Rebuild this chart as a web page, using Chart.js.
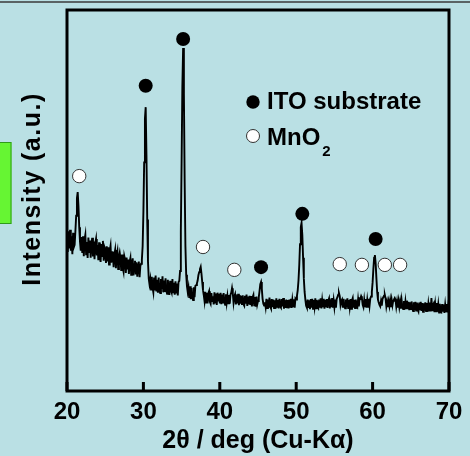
<!DOCTYPE html>
<html>
<head>
<meta charset="utf-8">
<script src="https://cdn.jsdelivr.net/npm/chart.js@4.4.0/dist/chart.umd.min.js"></script>
<style>
  html, body { margin: 0; padding: 0; background: #bae0e4; }
  #wrap { width: 470px; height: 456px; }
</style>
</head>
<body>
<div id="wrap"><canvas id="xrd"></canvas></div>
<script>
// 2theta scan, 20.0 .. 70.0 deg, 0.1 deg per point
const thetaStart = 20;
const thetaStep = 0.1;
const intensity = [
  40.8, 36.5, 41.9, 37.4, 42.3, 36.8, 40.6, 35.9, 41.5, 37.8, // 20
  38.4, 42.0, 46.0, 50.6, 52.2, 48.6, 43.0, 39.2, 36.8, 40.4, // 21
  36.2, 40.6, 35.4, 39.8, 41.0, 35.9, 39.1, 34.9, 40.3, 36.5, // 22
  39.5, 35.0, 38.7, 40.2, 35.3, 39.2, 34.6, 38.8, 39.9, 35.6, // 23
  38.3, 34.3, 39.0, 35.2, 33.9, 38.6, 35.4, 39.4, 34.2, 37.8, // 24
  37.2, 33.6, 38.0, 34.0, 37.7, 33.2, 36.9, 38.1, 33.7, 36.4, // 25
  36.6, 32.5, 35.8, 37.0, 32.2, 35.6, 36.7, 32.0, 35.2, 36.3, // 26
  34.9, 31.5, 35.8, 32.3, 31.3, 35.4, 34.5, 31.0, 35.0, 31.9, // 27
  34.5, 30.7, 33.9, 34.9, 30.5, 33.5, 34.8, 30.3, 33.3, 34.2, // 28
  30.6, 33.8, 30.0, 33.2, 34.0, 29.9, 32.8, 33.4, 34.5, 38.0, // 29
  47.0, 60.0, 71.5, 74.5, 62.0, 45.0, 34.0, 29.5, 28.0, 29.3, // 30
  26.6, 30.0, 27.1, 25.9, 29.8, 26.4, 30.3, 26.1, 29.2, 25.8, // 31
  29.8, 26.3, 25.7, 29.4, 26.8, 30.1, 25.9, 29.0, 26.0, 29.6, // 32
  26.2, 25.5, 29.2, 26.6, 25.2, 28.9, 26.4, 25.8, 29.4, 25.9, // 33
  28.4, 25.3, 28.8, 25.6, 28.2, 25.1, 28.6, 28.9, 31.5, 42.0, // 34
  60.0, 80.0, 90.0, 78.0, 55.0, 38.0, 30.5, 27.5, 26.0, 27.2, // 35
  24.4, 27.5, 24.1, 27.0, 24.8, 23.9, 27.2, 24.6, 27.6, 27.8, // 36
  28.2, 29.0, 30.4, 31.2, 32.0, 32.6, 30.8, 28.6, 26.5, 25.2, // 37
  23.6, 26.0, 23.2, 25.8, 23.0, 25.6, 26.2, 23.4, 22.9, 25.7, // 38
  23.6, 24.9, 22.7, 25.9, 23.2, 25.6, 22.6, 25.8, 23.5, 25.5, // 39
  23.0, 25.8, 22.8, 25.3, 23.0, 25.7, 23.4, 22.6, 25.4, 23.2, // 40
  24.9, 23.0, 25.2, 22.9, 25.3, 25.8, 27.0, 25.6, 23.2, 24.8, // 41
  25.4, 22.7, 25.1, 23.0, 25.5, 22.5, 25.2, 22.9, 25.0, 22.6, // 42
  25.1, 22.8, 22.4, 25.0, 22.9, 25.3, 22.3, 24.8, 22.7, 25.0, // 43
  22.6, 24.9, 22.2, 24.6, 25.2, 22.5, 24.7, 22.1, 24.8, 22.7, // 44
  23.6, 24.6, 26.2, 28.0, 28.6, 26.8, 24.2, 22.9, 22.4, 23.3, // 45
  22.0, 24.2, 21.8, 24.0, 21.9, 24.5, 22.2, 21.7, 24.1, 22.0, // 46
  24.0, 21.8, 23.8, 21.6, 24.3, 22.1, 23.9, 21.7, 24.2, 22.2, // 47
  21.9, 24.1, 22.2, 24.4, 21.6, 23.8, 21.8, 24.0, 22.0, 23.9, // 48
  21.7, 24.0, 22.1, 24.2, 21.8, 23.9, 22.2, 24.1, 21.9, 24.3, // 49
  24.0, 25.0, 26.5, 29.0, 33.0, 38.5, 43.0, 44.1, 41.0, 35.0, // 50
  29.5, 26.0, 24.0, 22.4, 21.9, 24.0, 21.8, 23.8, 21.5, 24.1, // 51
  21.9, 24.2, 21.6, 23.9, 22.1, 24.3, 21.7, 23.9, 22.2, 21.8, // 52
  24.0, 21.9, 24.3, 21.7, 23.8, 22.0, 24.2, 21.6, 23.9, 22.0, // 53
  24.1, 21.8, 23.7, 24.3, 21.7, 23.9, 22.0, 24.4, 21.9, 23.8, // 54
  22.0, 24.0, 21.9, 24.2, 24.6, 25.3, 25.7, 24.9, 22.6, 23.6, // 55
  24.0, 21.9, 24.2, 22.1, 21.7, 24.0, 22.0, 24.3, 21.8, 23.9, // 56
  22.0, 24.1, 21.6, 23.8, 24.4, 21.9, 23.9, 21.8, 24.0, 22.1, // 57
  21.9, 24.0, 22.2, 24.3, 24.2, 24.9, 24.4, 22.6, 22.0, 23.9, // 58
  22.0, 24.1, 21.9, 23.9, 22.1, 24.2, 22.4, 24.3, 24.8, 26.0, // 59
  28.5, 32.0, 35.0, 35.7, 33.5, 29.5, 26.0, 24.0, 23.2, 22.6, // 60
  22.2, 23.6, 22.4, 24.2, 24.6, 25.0, 25.2, 24.3, 22.2, 23.4, // 61
  22.0, 23.5, 22.3, 23.8, 22.0, 23.9, 22.5, 23.7, 24.0, 24.4, // 62
  23.9, 22.1, 23.5, 21.9, 23.6, 22.0, 23.4, 21.6, 23.8, 22.0, // 63
  21.5, 23.6, 21.4, 23.5, 21.7, 23.7, 21.5, 23.4, 21.2, 23.3, // 64
  21.3, 23.5, 21.6, 21.0, 23.3, 21.2, 23.4, 21.1, 23.2, 21.4, // 65
  20.9, 23.2, 21.2, 23.4, 21.0, 23.1, 20.8, 23.0, 21.1, 23.3, // 66
  21.0, 23.1, 20.8, 22.9, 21.1, 23.2, 20.9, 24.4, 21.2, 22.6, // 67
  23.0, 20.7, 22.8, 20.9, 23.1, 20.8, 22.7, 20.6, 22.9, 20.9, // 68
  20.7, 22.8, 20.8, 22.7, 20.5, 22.6, 20.7, 22.8, 20.6, 22.5, // 69
  21.6
];

// peak markers
const itoTheta = [30.3, 35.2, 45.4, 50.8, 60.4];
const itoMark = [80.1, 92.4, 32.5, 46.5, 39.9];
const mnoTheta = [21.6, 37.8, 41.9, 55.7, 58.6, 61.6, 63.6];
const mnoMark = [56.4, 37.8, 31.8, 33.3, 33.1, 33.1, 33.1];

const xTicks = [20, 30, 40, 50, 60, 70];
const yTitle = 'Intensity (a.u.)';
const legendLabels = ['ITO substrate', 'MnO'];
const legendSub = '2';

const FONT = '"Liberation Sans", Arial, sans-serif';
const BG = '#bae0e4';

const scan = intensity.map( ( v, i ) => ( { x: thetaStart + i * thetaStep, y: v } ) );
const ito = itoTheta.map( ( t, i ) => ( { x: t, y: itoMark[ i ] } ) );
const mno = mnoTheta.map( ( t, i ) => ( { x: t, y: mnoMark[ i ] } ) );

const decor = {
	id: 'decor',
	beforeDraw( chart ) {
		const { ctx, width } = chart;
		ctx.save();
		ctx.fillStyle = BG;
		ctx.fillRect( 0, 0, width, chart.height );
		// cropped edge of the page above
		ctx.strokeStyle = '#3a3a3a';
		ctx.lineWidth = 1.5;
		ctx.beginPath();
		ctx.moveTo( 0, 2 );
		ctx.lineTo( width, 2 );
		ctx.stroke();
		// green tab at the left edge
		ctx.fillStyle = '#66f533';
		ctx.strokeStyle = '#2f9a1a';
		ctx.lineWidth = 1;
		ctx.fillRect( 0, 142, 11.5, 82 );
		ctx.strokeRect( -1, 142.5, 12, 81 );

		// y title, a little wider tracking than plain canvas text
		ctx.translate( 33, 189 );
		ctx.rotate( -Math.PI / 2 );
		ctx.font = 'bold 25px ' + FONT;
		ctx.letterSpacing = '1.5px';
		ctx.textAlign = 'center';
		ctx.textBaseline = 'middle';
		ctx.fillStyle = '#000';
		ctx.fillText( yTitle, 0, 0 );
		ctx.restore();
	},
	afterDraw( chart ) {
		const { ctx, chartArea: a } = chart;
		const xs = chart.scales.x;
		ctx.save();
		ctx.strokeStyle = '#000';
		ctx.lineWidth = 3;
		ctx.strokeRect( a.left, a.top, a.right - a.left, a.bottom - a.top );
		// inward ticks
		ctx.beginPath();
		xTicks.forEach( ( v ) => {
			const px = xs.getPixelForValue( v );
			ctx.moveTo( px, a.bottom );
			ctx.lineTo( px, a.bottom - 9 );
		} );
		ctx.stroke();

		// legend
		ctx.font = 'bold 24px ' + FONT;
		ctx.textBaseline = 'alphabetic';
		ctx.fillStyle = '#000';
		ctx.beginPath();
		ctx.arc( 253, 102, 6.7, 0, Math.PI * 2 );
		ctx.fill();
		ctx.fillText( legendLabels[ 0 ], 267, 109 );

		ctx.beginPath();
		ctx.arc( 253, 136, 6.5, 0, Math.PI * 2 );
		ctx.fillStyle = '#fff';
		ctx.fill();
		ctx.lineWidth = 1;
		ctx.strokeStyle = '#333';
		ctx.stroke();
		ctx.fillStyle = '#000';
		ctx.fillText( legendLabels[ 1 ], 267, 145 );
		const w = ctx.measureText( legendLabels[ 1 ] ).width;
		ctx.font = 'bold 15px ' + FONT;
		ctx.fillText( legendSub, 267 + w + 2, 156 );
		ctx.restore();
	},
};

const ctx = document.getElementById( 'xrd' ).getContext( '2d' );
new Chart( ctx, {
	type: 'scatter',
	data: {
		datasets: [
			{
				label: 'MnO2',
				data: mno,
				pointRadius: 6.7,
				pointBackgroundColor: '#fff',
				pointBorderColor: '#333',
				pointBorderWidth: 1,
				order: 0,
			},
			{
				label: 'ITO substrate',
				data: ito,
				pointRadius: 7,
				pointBackgroundColor: '#000',
				pointBorderColor: '#000',
				pointBorderWidth: 0,
				order: 0,
			},
			{
				label: 'scan',
				type: 'line',
				data: scan,
				borderColor: '#000',
				borderWidth: 1.9,
				pointRadius: 0,
				tension: 0,
				fill: false,
				order: 1,
			},
		],
	},
	options: {
		responsive: true,
		maintainAspectRatio: false,
		animation: false,
		events: [],
		layout: { padding: { left: 0, right: 21, top: 10, bottom: 0 } },
		plugins: {
			legend: { display: false },
			tooltip: { enabled: false },
		},
		scales: {
			x: {
				type: 'linear',
				min: 20,
				max: 70,
				afterFit: ( s ) => { s.height = 65; },
				afterBuildTicks: ( s ) => { s.ticks = xTicks.map( ( v ) => ( { value: v } ) ); },
				grid: { display: false, drawTicks: false },
				border: { display: false },
				ticks: {
					padding: 7,
					color: '#000',
					maxRotation: 0,
					font: { family: FONT, size: 24, weight: 'bold' },
				},
				title: {
					display: true,
					text: '2θ / deg (Cu-Kα)',
					color: '#000',
					padding: { top: 0, bottom: 0 },
					font: { family: FONT, size: 25, weight: 'bold' },
				},
			},
			y: {
				min: 0,
				max: 100,
				afterFit: ( s ) => { s.width = 67; },
				grid: { display: false, drawTicks: false },
				border: { display: false },
				ticks: { display: false },
				title: { display: false },
			},
		},
	},
	plugins: [ decor ],
} );
</script>
</body>
</html>
